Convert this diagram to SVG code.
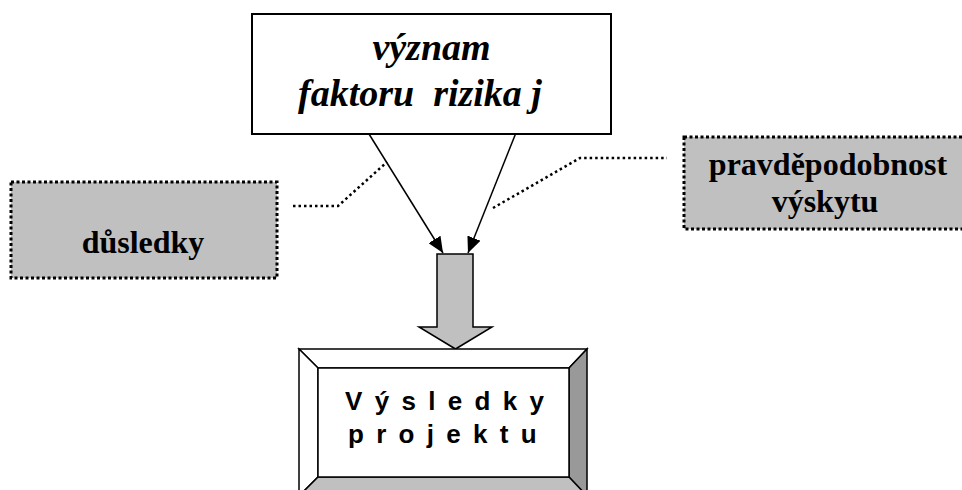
<svg xmlns="http://www.w3.org/2000/svg" width="962" height="490" viewBox="0 0 962 490">
<style>
.serif{font-family:"Liberation Serif","Times New Roman",serif;font-weight:bold;fill:#000}
.sans{font-family:"Liberation Sans",Arial,sans-serif;font-weight:bold;fill:#000;font-size:26px;letter-spacing:12.3px}
.dotbox{fill:#c0c0c0;stroke:#000;stroke-width:3;stroke-dasharray:3 2.5}
.dotline{fill:none;stroke:#000;stroke-width:2.5;stroke-dasharray:2.5 3}
.arrow{stroke:#000;stroke-width:1.5;fill:none;marker-end:url(#ah)}
.edge{stroke:#000;stroke-width:1.5;stroke-linejoin:miter}
</style>
<defs>
<marker id="ah" markerUnits="userSpaceOnUse" markerWidth="16" markerHeight="14" refX="16" refY="7" orient="auto">
<path d="M0,0 L16,7 L0,14 Z" fill="#000"/>
</marker>
</defs>
<g id="connectors">
<line class="arrow" x1="369" y1="134" x2="443" y2="253"/>
<line class="arrow" x1="515.5" y1="134" x2="468" y2="253"/>
<polyline class="dotline" points="293,206 338,206 387,162"/>
<polyline class="dotline" points="493,208 580,158 667,158"/>
<polygon class="edge" fill="#c0c0c0" points="437,254 473,254 473,327 492,327 455.5,349 419,327 437,327"/>
</g>
<g id="node-vyznam">
<rect x="252" y="14" width="359" height="120" fill="#fff" stroke="#000" stroke-width="2"/>
<text class="serif" font-style="italic" font-size="38" x="431.5" y="60" text-anchor="middle">význam</text>
<text class="serif" font-style="italic" font-size="38" x="420" y="106" text-anchor="middle" xml:space="preserve">faktoru  rizika j</text>
</g>
<g id="node-dusledky">
<rect class="dotbox" x="11" y="182" width="266" height="96"/>
<text class="serif" font-size="32" x="143" y="253" text-anchor="middle">důsledky</text>
</g>
<g id="node-pravdepodobnost">
<rect class="dotbox" x="684" y="137" width="300" height="92"/>
<text class="serif" font-size="32" x="828" y="175" text-anchor="middle">pravděpodobnost</text>
<text class="serif" font-size="32" x="825" y="212" text-anchor="middle">výskytu</text>
</g>
<g id="node-vysledky">
<polygon class="edge" fill="#fff" points="299,349 587,349 569,368 318,368"/>
<polygon class="edge" fill="#fff" points="299,349 318,368 318,477 299,496"/>
<polygon class="edge" fill="#999" points="587,349 587,496 569,477 569,368"/>
<polygon class="edge" fill="#c0c0c0" points="299,496 318,477 569,477 587,496"/>
<rect x="318" y="368" width="251" height="109" fill="#fff" stroke="#000" stroke-width="1.5"/>
<text class="sans" x="345" y="410">Výsledky</text>
<text class="sans" x="348" y="443">projektu</text>
</g>
</svg>
